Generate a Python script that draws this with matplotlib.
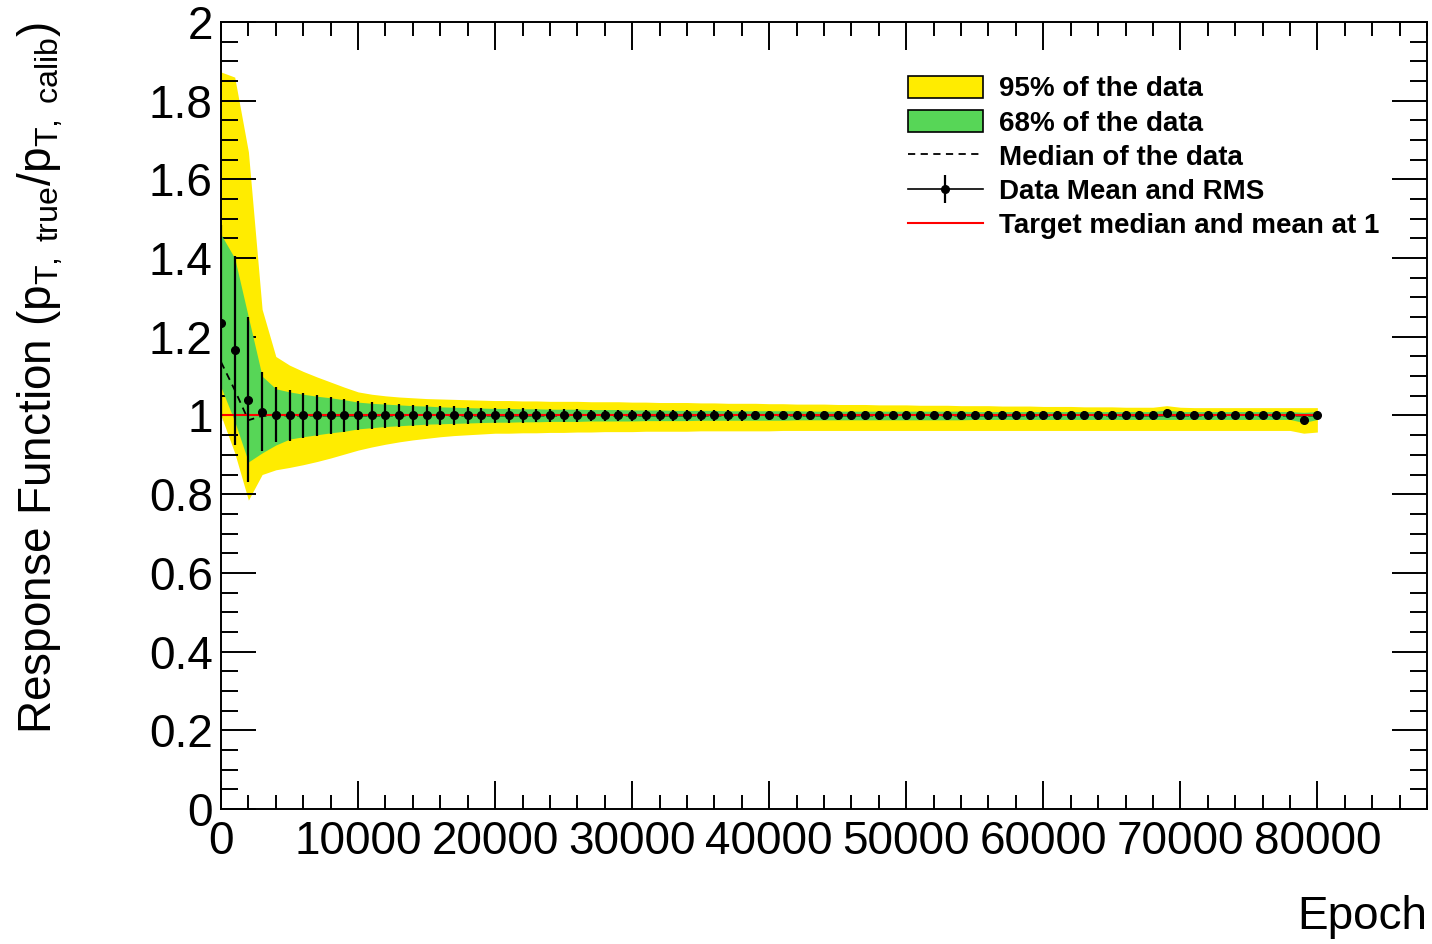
import numpy as np
import matplotlib
matplotlib.use("Agg")
import matplotlib.pyplot as plt
from matplotlib.ticker import MultipleLocator, FuncFormatter
from matplotlib.patches import Patch
from matplotlib.lines import Line2D
from matplotlib.legend_handler import HandlerTuple

plt.rcParams['font.family'] = ['Liberation Sans', 'DejaVu Sans']
plt.rcParams['mathtext.fontset'] = 'custom'
plt.rcParams['mathtext.rm'] = 'Liberation Sans'
plt.rcParams['mathtext.it'] = 'Liberation Sans'

# one bin every 1000 epochs, 0 .. 80000
epochs = np.arange(0, 81000, 1000)

mean = [1.235, 1.166, 1.040, 1.010, 1.002, 1.000, 1.000, 1.000, 1.000, 1.000,
        1.000, 1.000, 1.000, 1.000, 1.000, 1.000, 1.000, 1.000, 1.000, 1.000,
        1.000, 1.000, 1.000, 1.000, 1.000, 1.000, 1.000, 1.000, 1.000, 1.000,
        1.000, 1.000, 1.000, 1.000, 1.000, 1.000, 1.000, 1.000, 1.000, 1.000,
        1.000, 1.000, 1.000, 1.000, 1.000, 1.000, 1.000, 1.000, 1.000, 1.000,
        1.000, 1.000, 1.000, 1.000, 1.000, 1.000, 1.000, 1.000, 1.000, 1.000,
        1.000, 1.000, 1.000, 1.000, 1.000, 1.000, 1.000, 1.000, 1.000, 1.006,
        1.000, 1.000, 1.000, 1.000, 1.000, 1.000, 1.000, 1.000, 1.000, 0.988,
        1.000]

rms = [0.250, 0.240, 0.210, 0.100, 0.070, 0.066, 0.058, 0.052, 0.046, 0.041,
       0.037, 0.034, 0.031, 0.029, 0.027, 0.026, 0.024, 0.023, 0.021, 0.020,
       0.019, 0.018, 0.018, 0.017, 0.017, 0.016, 0.016, 0.015, 0.015, 0.015,
       0.014, 0.014, 0.014, 0.014, 0.013, 0.013, 0.013, 0.013, 0.013, 0.012,
       0.012, 0.012, 0.012, 0.012, 0.012, 0.012, 0.012, 0.012, 0.012, 0.012,
       0.012, 0.012, 0.011, 0.011, 0.011, 0.011, 0.011, 0.011, 0.011, 0.011,
       0.011, 0.011, 0.011, 0.011, 0.011, 0.011, 0.011, 0.011, 0.011, 0.011,
       0.011, 0.011, 0.010, 0.010, 0.010, 0.010, 0.010, 0.010, 0.010, 0.010,
       0.010]

median = [1.136, 1.065, 0.988, 0.999, 1.000, 1.000, 1.000, 1.000, 1.000, 1.000,
          1.000, 1.000, 1.000, 1.000, 1.000, 1.000, 1.000, 1.000, 1.000, 1.000,
          1.000, 1.000, 1.000, 1.000, 1.000, 1.000, 1.000, 1.000, 1.000, 1.000,
          1.000, 1.000, 1.000, 1.000, 1.000, 1.000, 1.000, 1.000, 1.000, 1.000,
          1.000, 1.000, 1.000, 1.000, 1.000, 1.000, 1.000, 1.000, 1.000, 1.000,
          1.000, 1.000, 1.000, 1.000, 1.000, 1.000, 1.000, 1.000, 1.000, 1.000,
          1.000, 1.000, 1.000, 1.000, 1.000, 1.000, 1.000, 1.000, 1.000, 1.000,
          1.000, 1.000, 1.000, 1.000, 1.000, 1.000, 1.000, 1.000, 1.000, 1.000,
          1.000]

q68_hi = [1.460, 1.400, 1.250, 1.100, 1.068, 1.060, 1.054, 1.049, 1.045, 1.040,
          1.034, 1.031, 1.029, 1.027, 1.025, 1.024, 1.022, 1.021, 1.020, 1.019,
          1.018, 1.018, 1.017, 1.017, 1.016, 1.016, 1.016, 1.015, 1.015, 1.015,
          1.014, 1.014, 1.014, 1.013, 1.013, 1.013, 1.013, 1.012, 1.012, 1.012,
          1.012, 1.012, 1.012, 1.011, 1.011, 1.011, 1.011, 1.011, 1.011, 1.011,
          1.011, 1.011, 1.011, 1.011, 1.011, 1.010, 1.010, 1.010, 1.010, 1.010,
          1.010, 1.010, 1.010, 1.010, 1.010, 1.010, 1.010, 1.010, 1.010, 1.014,
          1.010, 1.010, 1.010, 1.010, 1.010, 1.010, 1.010, 1.010, 1.010, 1.008,
          1.010]

q68_lo = [1.072, 0.985, 0.882, 0.905, 0.925, 0.940, 0.946, 0.951, 0.956, 0.960,
          0.966, 0.969, 0.972, 0.974, 0.976, 0.978, 0.979, 0.980, 0.981, 0.982,
          0.983, 0.983, 0.984, 0.984, 0.985, 0.985, 0.985, 0.986, 0.986, 0.986,
          0.986, 0.987, 0.987, 0.987, 0.987, 0.988, 0.988, 0.988, 0.988, 0.988,
          0.988, 0.988, 0.989, 0.989, 0.989, 0.989, 0.989, 0.989, 0.989, 0.989,
          0.989, 0.989, 0.989, 0.989, 0.989, 0.990, 0.990, 0.990, 0.990, 0.990,
          0.990, 0.990, 0.990, 0.990, 0.990, 0.990, 0.990, 0.990, 0.990, 0.990,
          0.990, 0.990, 0.990, 0.990, 0.990, 0.990, 0.990, 0.990, 0.990, 0.982,
          0.990]

q95_hi = [1.873, 1.860, 1.670, 1.270, 1.150, 1.128, 1.112, 1.098, 1.085, 1.072,
          1.060, 1.054, 1.050, 1.047, 1.045, 1.043, 1.042, 1.041, 1.040, 1.039,
          1.038, 1.038, 1.037, 1.037, 1.036, 1.036, 1.036, 1.035, 1.035, 1.035,
          1.034, 1.034, 1.033, 1.033, 1.033, 1.032, 1.032, 1.031, 1.031, 1.031,
          1.030, 1.030, 1.029, 1.029, 1.029, 1.028, 1.028, 1.028, 1.027, 1.027,
          1.027, 1.026, 1.026, 1.026, 1.025, 1.025, 1.025, 1.024, 1.024, 1.024,
          1.023, 1.023, 1.023, 1.022, 1.022, 1.022, 1.021, 1.021, 1.021, 1.025,
          1.021, 1.020, 1.020, 1.020, 1.020, 1.020, 1.020, 1.020, 1.020, 1.020,
          1.020]

q95_lo = [1.000, 0.905, 0.785, 0.850, 0.862, 0.868, 0.875, 0.883, 0.892, 0.902,
          0.912, 0.920, 0.927, 0.933, 0.938, 0.942, 0.946, 0.949, 0.951, 0.953,
          0.955, 0.955, 0.956, 0.956, 0.957, 0.957, 0.958, 0.958, 0.959, 0.959,
          0.959, 0.960, 0.960, 0.960, 0.960, 0.961, 0.961, 0.961, 0.961, 0.961,
          0.961, 0.962, 0.962, 0.962, 0.962, 0.962, 0.962, 0.962, 0.962, 0.962,
          0.962, 0.962, 0.962, 0.962, 0.962, 0.962, 0.962, 0.962, 0.962, 0.962,
          0.962, 0.962, 0.962, 0.962, 0.962, 0.962, 0.962, 0.962, 0.962, 0.962,
          0.962, 0.962, 0.962, 0.962, 0.962, 0.962, 0.962, 0.962, 0.962, 0.955,
          0.958]

target = 1.0

yellow = "#ffec00"
green = "#57d657"

fig = plt.figure(figsize=(14.32, 9.44), dpi=100)
ax = fig.add_axes([221 / 1432, 135 / 944, 1206 / 1432, 787 / 944])

ax.fill_between(epochs, q95_lo, q95_hi, color=yellow, lw=0, zorder=1)
ax.fill_between(epochs, q68_lo, q68_hi, color=green, lw=0, zorder=2)
ax.plot(epochs, median, color="black", ls=(0, (4, 3)), lw=1.3, zorder=3)
ax.hlines(target, epochs[0], epochs[-1], color="red", lw=1.5, zorder=4)
eb = ax.errorbar(epochs, mean, yerr=rms, fmt="o", color="black", ms=5.5,
                 elinewidth=1.6, capsize=0, zorder=5)

ax.set_xlim(0, 88000)
ax.set_ylim(0, 2)

ax.xaxis.set_major_locator(MultipleLocator(10000))
ax.xaxis.set_minor_locator(MultipleLocator(2000))
ax.yaxis.set_major_locator(MultipleLocator(0.2))
ax.yaxis.set_minor_locator(MultipleLocator(0.05))
ax.xaxis.set_major_formatter(FuncFormatter(lambda v, p: "%d" % round(v)))
ax.yaxis.set_major_formatter(FuncFormatter(lambda v, p: "%g" % round(v, 1)))

ax.tick_params(which="both", direction="in", top=True, right=True, width=1.4)
ax.tick_params(axis="y", which="major", length=25, labelsize=33, pad=6)
ax.tick_params(axis="y", which="minor", length=12)
ax.tick_params(axis="x", which="major", length=20, labelsize=33, pad=8)
ax.tick_params(axis="x", which="minor", length=10)
for s in ax.spines.values():
    s.set_linewidth(1.4)

ax.set_xlabel("Epoch", fontsize=33, loc="right", labelpad=22)
ax.set_ylabel(r"Response Function (p$_{\mathregular{T,\ true}}$/p$_{\mathregular{T,\ calib}}$)",
              fontsize=33, loc="top", labelpad=60)

handles = [
    Patch(facecolor=yellow, edgecolor="black", lw=1.2),
    Patch(facecolor=green, edgecolor="black", lw=1.2),
    Line2D([], [], color="black", ls=(0, (4, 3)), lw=1.3),
    (Line2D([], [], color="black", lw=1.2), eb),
    Line2D([], [], color="red", lw=1.5),
]
labels = ["95% of the data", "68% of the data", "Median of the data",
          "Data Mean and RMS", "Target median and mean at 1"]
ax.legend(handles, labels, loc="upper left", bbox_to_anchor=(0.5697, 0.932),
          frameon=False, borderpad=0, borderaxespad=0,
          prop={"family": "Liberation Sans", "weight": "bold", "size": 20},
          handlelength=2.68, handleheight=0.86, handletextpad=0.6,
          labelspacing=0.27, handler_map={tuple: HandlerTuple(ndivide=1)})

fig.savefig("out.png", dpi=100)
